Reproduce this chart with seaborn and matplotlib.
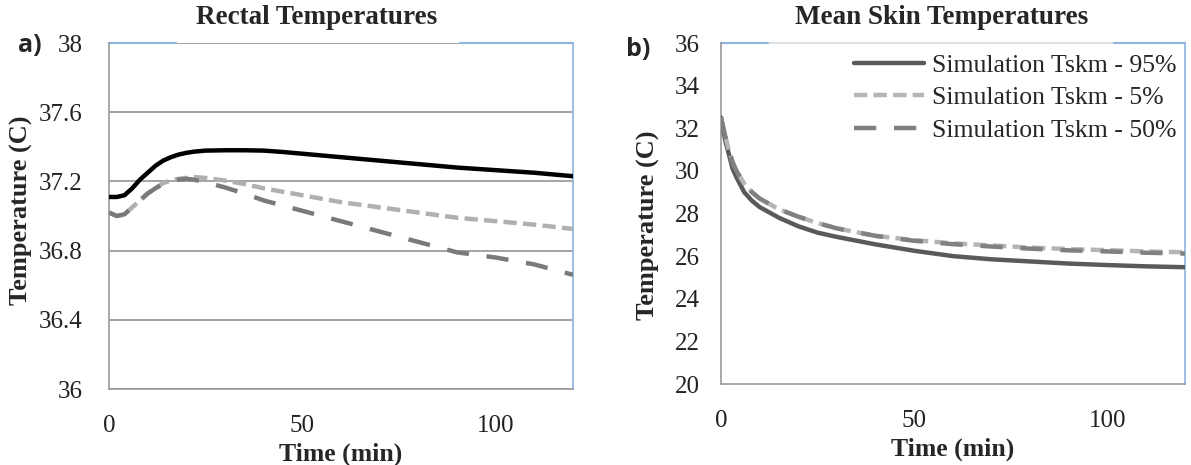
import numpy as np
import pandas as pd
import matplotlib
matplotlib.use("Agg")
import matplotlib.pyplot as plt
import seaborn as sns

# ---------------- data ----------------
rectal_time = [0, 2, 4, 6, 8, 10, 12, 14, 16, 18, 20, 22, 25, 30, 35, 40,
               45, 50, 60, 70, 80, 90, 100, 110, 120]
rectal_95 = [37.11, 37.11, 37.12, 37.16, 37.21, 37.25, 37.29, 37.32, 37.34,
             37.355, 37.365, 37.372, 37.378, 37.38, 37.38, 37.378, 37.37,
             37.36, 37.34, 37.32, 37.30, 37.28, 37.265, 37.25, 37.23]
rectal_5 = [37.02, 37.00, 37.01, 37.05, 37.09, 37.13, 37.16, 37.19, 37.205,
            37.215, 37.22, 37.225, 37.22, 37.205, 37.185, 37.16, 37.14,
            37.12, 37.08, 37.05, 37.02, 36.99, 36.97, 36.95, 36.925]
rectal_50 = [37.02, 37.00, 37.01, 37.05, 37.09, 37.13, 37.16, 37.185, 37.20,
             37.21, 37.215, 37.21, 37.195, 37.165, 37.13, 37.09, 37.06,
             37.03, 36.97, 36.91, 36.85, 36.79, 36.76, 36.72, 36.66]

skin_time = [0, 1, 2, 3, 4, 6, 8, 10, 12, 15, 20, 25, 30, 40, 50, 60, 70,
             80, 90, 100, 110, 120]
skin_95 = [32.5, 31.5, 30.8, 30.1, 29.7, 29.0, 28.6, 28.3, 28.1, 27.8, 27.4,
           27.1, 26.9, 26.55, 26.25, 26.0, 25.85, 25.75, 25.65, 25.58, 25.52,
           25.48]
skin_5 = [32.5, 31.7, 31.0, 30.4, 30.0, 29.4, 29.0, 28.7, 28.5, 28.2, 27.85,
          27.55, 27.3, 26.95, 26.75, 26.6, 26.5, 26.4, 26.33, 26.28, 26.22,
          26.18]
skin_50 = [32.5, 31.7, 31.0, 30.4, 30.0, 29.4, 29.0, 28.7, 28.5, 28.2, 27.85,
           27.55, 27.3, 26.95, 26.72, 26.56, 26.45, 26.35, 26.27, 26.22,
           26.16, 26.12]

series_names = ["Simulation Tskm - 95%", "Simulation Tskm - 5%",
                "Simulation Tskm - 50%"]
rectal_yticks = [36, 36.4, 36.8, 37.2, 37.6, 38]
rectal_yticklabels = ["36", "36.4", "36.8", "37.2", "37.6", "38"]
skin_yticks = [20, 22, 24, 26, 28, 30, 32, 34, 36]
xticks = [0, 50, 100]

def long_df(t, ys):
    frames = []
    for name, y in zip(series_names, ys):
        frames.append(pd.DataFrame({"Time": t, "Temp": y, "Series": name}))
    return pd.concat(frames, ignore_index=True)

df_rectal = long_df(rectal_time, [rectal_95, rectal_5, rectal_50])
df_skin = long_df(skin_time, [skin_95, skin_5, skin_50])

# ---------------- style ----------------
sns.set_theme(style="white")
plt.rcParams["font.family"] = ["Liberation Serif", "DejaVu Serif"]

W, H = 1191, 465
fig = plt.figure(figsize=(W / 100, H / 100), dpi=100)

def px_axes(x0, x1, ytop, ybot):
    return fig.add_axes([x0 / W, 1 - ybot / H, (x1 - x0) / W, (ybot - ytop) / H])

ax1 = px_axes(109, 573, 43, 389)
ax2 = px_axes(721, 1185, 43, 384)

gray_spine = "#9a9a9a"
blue_spine = "#8db3e2"
lw = 3.2
dash_short = (3.0, 1.4)
dash_long = (5.0, 4.0)

sns.lineplot(data=df_rectal, x="Time", y="Temp", hue="Series", style="Series",
             palette={series_names[0]: "#000000", series_names[1]: "#b0b0b0",
                      series_names[2]: "#7a7a7a"},
             dashes={series_names[0]: "", series_names[1]: dash_short,
                     series_names[2]: dash_long},
             linewidth=lw, legend=False, ax=ax1, zorder=3)

sns.lineplot(data=df_skin, x="Time", y="Temp", hue="Series", style="Series",
             palette={series_names[0]: "#5a5a5a", series_names[1]: "#b5b5b5",
                      series_names[2]: "#808080"},
             dashes={series_names[0]: "", series_names[1]: dash_short,
                     series_names[2]: dash_long},
             linewidth=lw, legend=True, ax=ax2, zorder=3)

# ---------------- axes cosmetics ----------------
for ax in (ax1, ax2):
    ax.set_xlim(0, 120)
    ax.set_xticks(xticks)
    ax.tick_params(axis="both", length=0, labelsize=18, colors="#222222")
    ax.tick_params(axis="x", pad=19)
    for s in ("left", "bottom"):
        ax.spines[s].set_color(gray_spine)
        ax.spines[s].set_linewidth(1.2)
    ax.spines["right"].set_color(blue_spine)
    ax.spines["right"].set_linewidth(1.2)
    ax.spines["top"].set_visible(False)
    ax.set_xlabel("Time (min)", fontsize=18.5, fontweight="bold")
    ax.set_ylabel("Temperature (C)", fontsize=19, fontweight="bold")

ax1.set_ylim(36, 38)
ax1.set_yticks(rectal_yticks)
ax1.set_yticklabels(rectal_yticklabels)
ax1.tick_params(axis="y", pad=19)
ax1.yaxis.grid(True, color="#8a8a8a", linewidth=1.1)
ax1.set_axisbelow(True)
# top border of the left panel, interrupted under the title
ax1.axhline(38, xmin=0, xmax=0.145, color=blue_spine, lw=1.5, clip_on=False)
ax1.axhline(38, xmin=0.757, xmax=1, color=blue_spine, lw=1.5, clip_on=False)

ax2.set_ylim(20, 36)
ax2.set_yticks(skin_yticks)
ax2.tick_params(axis="y", pad=15)
ax2.axhline(36, xmin=0, xmax=0.104, color=blue_spine, lw=1.5, clip_on=False)
ax2.axhline(36, xmin=0.104, xmax=0.847, color="#d5dbe4", lw=1.2, clip_on=False)
ax2.axhline(36, xmin=0.847, xmax=1, color=blue_spine, lw=1.5, clip_on=False)

ax1.xaxis.set_label_coords(0.499, -0.154)
ax2.xaxis.set_label_coords(0.50, -0.158)
ax1.yaxis.set_label_coords(-0.164, 0.517)
ax2.yaxis.set_label_coords(-0.131, 0.466)

leg = ax2.legend(loc="upper right", bbox_to_anchor=(1.0, 0.995), frameon=False,
                 fontsize=18.5, handlelength=2.7, handletextpad=0.3,
                 labelspacing=0.38, borderaxespad=0.15, borderpad=0.2)
for h in leg.get_lines():
    h.set_linewidth(lw)

# titles and panel letters
fig.text(317 / W, 1 - 18 / H, "Rectal Temperatures", ha="center", va="center",
         fontsize=19.5, fontweight="bold")
fig.text(942 / W, 1 - 18 / H, "Mean Skin Temperatures", ha="center",
         va="center", fontsize=19.5, fontweight="bold")
fig.text(30 / W, 1 - 46 / H, "a)", ha="center", va="center", fontsize=18,
         fontweight="bold", family=["Open Sans", "DejaVu Sans"])
fig.text(638 / W, 1 - 49 / H, "b)", ha="center", va="center", fontsize=18,
         fontweight="bold", family=["Open Sans", "DejaVu Sans"])

fig.savefig("out.png", dpi=100, facecolor="white")
